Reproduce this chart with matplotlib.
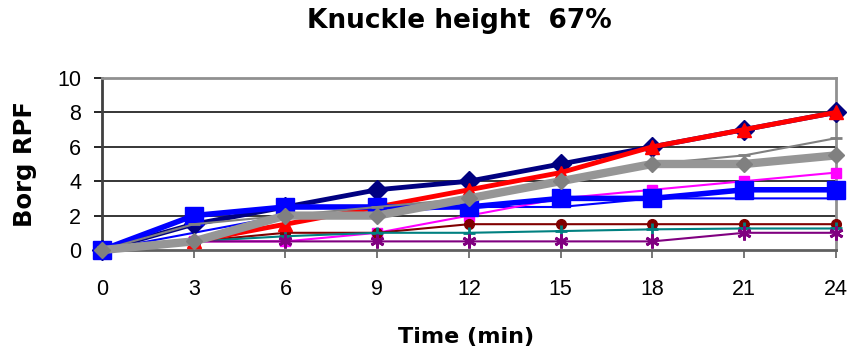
import matplotlib
matplotlib.use("Agg")
import matplotlib.pyplot as plt

# Borg RPF ratings over time, knuckle height 67%
tiempo = [0, 3, 6, 9, 12, 15, 18, 21, 24]

rpf_navy = [0, 1.5, 2.5, 3.5, 4, 5, 6, 7, 8]
rpf_rojo = [0, 0.5, 1.5, 2.5, 3.5, 4.5, 6, 7, 8]
rpf_gris_grueso = [0, 0.5, 2, 2, 3, 4, 5, 5, 5.5]
rpf_gris_fino = [0, 1.5, 2, 2.5, 3, 4, 5, 5.5, 6.5]
rpf_azul_grueso = [0, 2, 2.5, 2.5, 2.5, 3, 3, 3.5, 3.5]
rpf_azul_fino = [0, 1, 2, 2.2, 2.5, 2.5, 3, 3, 3]
rpf_magenta = [0, 0.5, 0.5, 1, 2, 3, 3.5, 4, 4.5]
rpf_granate = [0, 0.5, 1, 1, 1.5, 1.5, 1.5, 1.5, 1.5]
rpf_verde = [0, 0.5, 0.8, 1, 1, 1.1, 1.2, 1.25, 1.25]
rpf_morado = [0, 0.5, 0.5, 0.5, 0.5, 0.5, 0.5, 1, 1]

asterisco = (6, 2, 0)

fig = plt.figure(figsize=(8.52, 3.53), dpi=100)
ax = fig.add_axes([0.1197, 0.2918, 0.8615, 0.4873])

series = [
    (rpf_azul_fino, "#0000FF", 1.5, None, 0, 1),
    (rpf_magenta, "#FF00FF", 1.5, "s", 6.5, 2),
    (rpf_granate, "#800000", 1.5, "o", 7, 3),
    (rpf_verde, "#008080", 1.5, "+", 9, 4),
    (rpf_morado, "#800080", 1.5, asterisco, 10, 5),
    (rpf_navy, "#000080", 3.5, "D", 10.5, 6),
    (rpf_rojo, "#FF0000", 3.5, "^", 10, 7),
    (rpf_azul_grueso, "#0000FF", 4, "s", 12.5, 8),
    (rpf_gris_fino, "#808080", 1.5, "_", 8, 9),
    (rpf_gris_grueso, "#969696", 6, "D", 8.5, 10),
]

for valores, color, lw, marcador, tam, z in series:
    mcol = "#808080" if color == "#969696" else color
    ax.plot(tiempo, valores, color=color, lw=lw, marker=marcador,
            markersize=tam, markerfacecolor=mcol, markeredgecolor=mcol,
            markeredgewidth=2 if marcador in ("+", "_", asterisco) else 1,
            zorder=z + 2, clip_on=False)

ax.set_xlim(0, 24)
ax.set_ylim(0, 10)
ax.set_xticks(tiempo)
ax.set_yticks([0, 2, 4, 6, 8, 10])

# lineas de la cuadricula
for y in [2, 4, 6, 8]:
    ax.axhline(y, color="black", lw=1.1, zorder=1)

ax.spines["top"].set_color("#909090")
ax.spines["top"].set_linewidth(2)
ax.spines["right"].set_color("#909090")
ax.spines["right"].set_linewidth(2)
ax.spines["left"].set_color("#404040")
ax.spines["left"].set_linewidth(2)
ax.spines["bottom"].set_color("#606060")
ax.spines["bottom"].set_linewidth(2)

ax.tick_params(axis="y", length=6, width=1.2, color="black", pad=9,
               labelsize=15.5)
ax.tick_params(axis="x", length=6, width=1.2, color="#606060", pad=15,
               labelsize=15.5)
for lab in ax.get_xticklabels() + ax.get_yticklabels():
    lab.set_fontfamily("Liberation Sans")

fig.text(0.539, 1 - 21 / 353, "Knuckle height  67%", ha="center",
         va="center", fontsize=19, fontweight="bold")
fig.text(0.547, 1 - 343 / 353, "Time (min)", ha="center", va="baseline",
         fontsize=16, fontweight="bold")
fig.text(0.029, 0.535, "Borg RPF", ha="center", va="center", rotation=90,
         fontsize=17.5, fontweight="bold")

fig.savefig("out.png", dpi=100)
